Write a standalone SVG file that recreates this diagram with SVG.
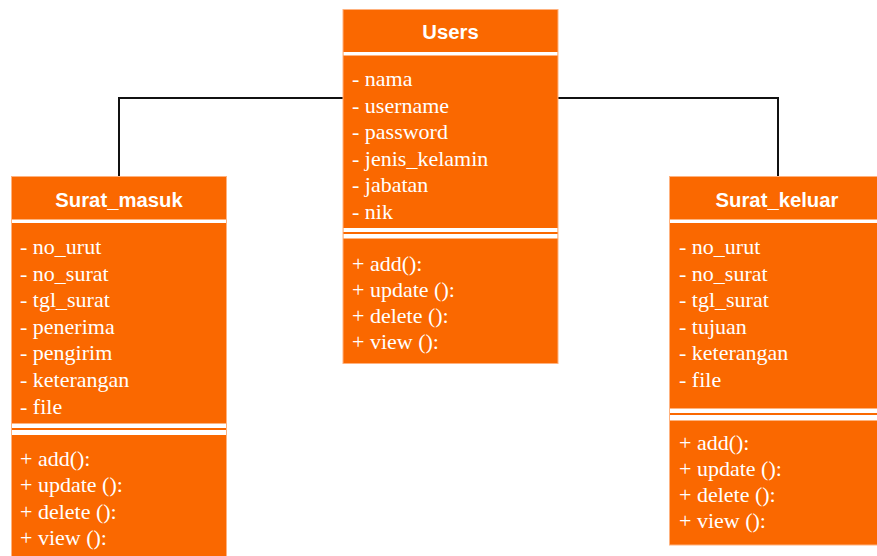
<svg xmlns="http://www.w3.org/2000/svg" width="877" height="556" viewBox="0 0 877 556">
<style>
.box{fill:#FA6800;stroke:#FFB27F;stroke-width:1}
.sep{fill:#FFFFFF}
.title{font-family:"Liberation Sans",Arial,sans-serif;font-weight:bold;font-size:20.3px;fill:#FFFFFF;text-anchor:middle}
.item{font-family:"Liberation Serif","Times New Roman",serif;font-size:22px;fill:#FFFFFF}
.conn{fill:none;stroke:#111111;stroke-width:2}
</style>
<rect width="877" height="556" fill="#FFFFFF"/>
<g id="connectors">
<path class="conn" d="M343,98 H119 V176"/>
<path class="conn" d="M558,98 H778 V176"/>
</g>
<g id="users">
<rect class="box" x="343" y="9.5" width="215" height="354"/>
<rect class="sep" x="343.5" y="52" width="214" height="3.5"/>
<rect class="sep" x="343.5" y="228" width="214" height="4"/>
<rect class="sep" x="343.5" y="234" width="214" height="4.5"/>
<text class="title" x="450.5" y="38.5">Users</text>
<text class="item" x="352" y="86">- nama</text>
<text class="item" x="352" y="112.6">- username</text>
<text class="item" x="352" y="139.2">- password</text>
<text class="item" x="352" y="165.8">- jenis_kelamin</text>
<text class="item" x="352" y="192.4">- jabatan</text>
<text class="item" x="352" y="219">- nik</text>
<text class="item" x="352" y="271">+ add():</text>
<text class="item" x="352" y="297">+ update ():</text>
<text class="item" x="352" y="323">+ delete ():</text>
<text class="item" x="352" y="349">+ view ():</text>
</g>
<g id="surat_masuk">
<rect class="box" x="11.5" y="176.5" width="215" height="400"/>
<rect class="sep" x="12" y="219.5" width="214" height="3.5"/>
<rect class="sep" x="12" y="423.5" width="214" height="4.5"/>
<rect class="sep" x="12" y="430" width="214" height="5"/>
<text class="title" x="119" y="207">Surat_masuk</text>
<text class="item" x="20" y="254">- no_urut</text>
<text class="item" x="20" y="280.6">- no_surat</text>
<text class="item" x="20" y="307.2">- tgl_surat</text>
<text class="item" x="20" y="333.8">- penerima</text>
<text class="item" x="20" y="360.4">- pengirim</text>
<text class="item" x="20" y="387">- keterangan</text>
<text class="item" x="20" y="413.6">- file</text>
<text class="item" x="20" y="466">+ add():</text>
<text class="item" x="20" y="492.3">+ update ():</text>
<text class="item" x="20" y="518.6">+ delete ():</text>
<text class="item" x="20" y="545">+ view ():</text>
</g>
<g id="surat_keluar">
<rect class="box" x="669.5" y="176.5" width="215" height="368.5"/>
<rect class="sep" x="670" y="219.5" width="214" height="3.5"/>
<rect class="sep" x="670" y="408.5" width="214" height="4.5"/>
<rect class="sep" x="670" y="415" width="214" height="5.5"/>
<text class="title" x="777" y="207">Surat_keluar</text>
<text class="item" x="679" y="254">- no_urut</text>
<text class="item" x="679" y="280.6">- no_surat</text>
<text class="item" x="679" y="307.2">- tgl_surat</text>
<text class="item" x="679" y="333.8">- tujuan</text>
<text class="item" x="679" y="360.4">- keterangan</text>
<text class="item" x="679" y="387">- file</text>
<text class="item" x="679" y="450">+ add():</text>
<text class="item" x="679" y="476">+ update ():</text>
<text class="item" x="679" y="502">+ delete ():</text>
<text class="item" x="679" y="528">+ view ():</text>
</g>
</svg>
